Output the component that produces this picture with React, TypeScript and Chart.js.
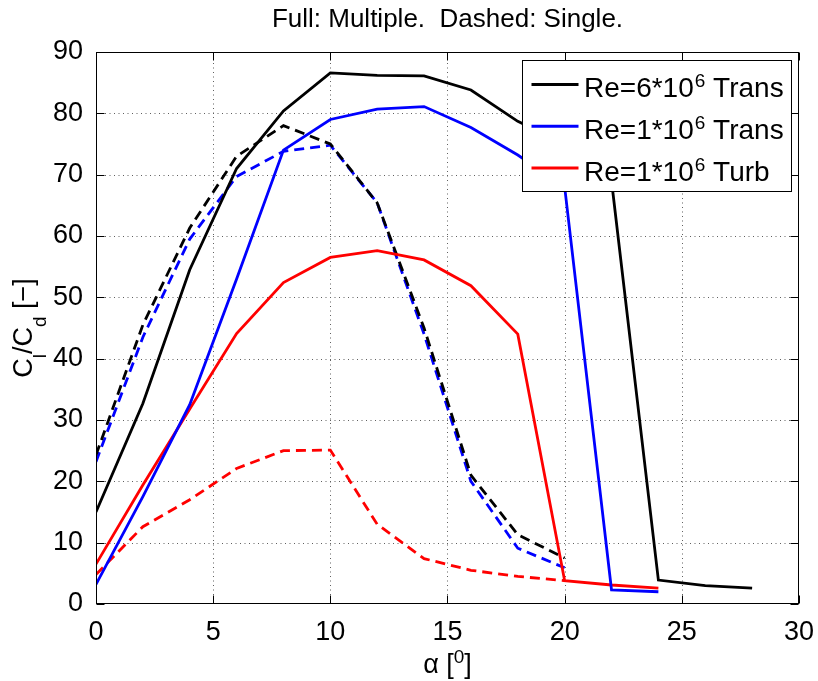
import React, { useEffect, useRef } from "react";
import { Chart, registerables } from "chart.js";

Chart.register(...registerables);

// ---- data (alpha in degrees, Cl/Cd) ----
const alphaBlack = [0, 2, 4, 6, 8, 10, 12, 14, 16, 18, 20, 22, 24, 26, 28];
const re6TransMultiple = [15, 32.7, 54.5, 71, 80.4, 86.6, 86.2, 86.1, 83.8, 78.7, 75, 69, 3.9, 3.0, 2.6];

const alphaBlue = [0, 2, 4, 6, 8, 10, 12, 14, 16, 18, 20, 22, 24];
const re1TransMultiple = [3.2, 17.5, 32.5, 53, 74, 79, 80.7, 81.1, 77.7, 73.2, 68, 2.3, 2.0];

const alphaRed = [0, 2, 4, 6, 8, 10, 12, 14, 16, 18, 20, 22, 24];
const re1TurbMultiple = [6.5, 19.4, 31.8, 44.1, 52.4, 56.5, 57.6, 56.1, 51.9, 44.0, 3.8, 3.1, 2.6];

const alphaSingle = [0, 2, 4, 6, 8, 10, 12, 14, 16, 18, 20];
const re6TransSingle = [24.3, 45.5, 61.3, 73, 78, 75, 65.4, 45, 21, 11.3, 7.5];
const re1TransSingle = [23.2, 43.5, 59.5, 69.7, 73.8, 74.8, 65.4, 44, 20, 9.1, 5.9];
const re1TurbSingle = [4.8, 12.6, 17, 22.1, 25, 25.1, 13, 7.4, 5.5, 4.5, 3.8];

const xTicks = [0, 5, 10, 15, 20, 25, 30];
const yTicks = [0, 10, 20, 30, 40, 50, 60, 70, 80, 90];

const legendEntries = [
  { pre: "Re=6*10", sup: "6", post: " Trans", color: "#000000" },
  { pre: "Re=1*10", sup: "6", post: " Trans", color: "#0000ff" },
  { pre: "Re=1*10", sup: "6", post: " Turb", color: "#ff0000" },
];

const titleText = "Full: Multiple.  Dashed: Single.";
const FONT = '"Liberation Sans", Arial, Helvetica, sans-serif';

const pts = (xs: number[], ys: number[]) => xs.map((x, i) => ({ x, y: ys[i] }));

const decorPlugin = {
  id: "decor",
  beforeDatasetsDraw(chart: any) {
    const { ctx, chartArea: a, scales } = chart;
    const x = scales.x;
    const y = scales.y;
    ctx.save();
    ctx.strokeStyle = "#606060";
    ctx.lineWidth = 1;
    ctx.setLineDash([1, 3.5]);
    for (const v of xTicks) {
      if (v === 0 || v === 30) continue;
      const px = Math.round(x.getPixelForValue(v)) + 0.5;
      ctx.beginPath();
      ctx.moveTo(px, a.bottom);
      ctx.lineTo(px, a.top);
      ctx.stroke();
    }
    for (const v of yTicks) {
      if (v === 0 || v === 90) continue;
      const py = Math.round(y.getPixelForValue(v)) + 0.5;
      ctx.beginPath();
      ctx.moveTo(a.left, py);
      ctx.lineTo(a.right, py);
      ctx.stroke();
    }
    ctx.restore();
  },
  afterDatasetsDraw(chart: any) {
    const { ctx, chartArea: a, scales } = chart;
    const x = scales.x;
    const y = scales.y;
    ctx.save();
    ctx.setLineDash([]);
    ctx.strokeStyle = "#000";
    ctx.lineWidth = 1;
    const L = Math.round(a.left) + 0.5;
    const R = Math.round(a.right) - 0.5;
    const T = Math.round(a.top) + 0.5;
    const B = Math.round(a.bottom) - 0.5;
    ctx.strokeRect(L, T, R - L, B - T);
    const tl = 8;
    for (const v of xTicks) {
      const px = Math.round(x.getPixelForValue(v)) + 0.5;
      ctx.beginPath();
      ctx.moveTo(px, B);
      ctx.lineTo(px, B - tl);
      ctx.moveTo(px, T);
      ctx.lineTo(px, T + tl);
      ctx.stroke();
    }
    for (const v of yTicks) {
      const py = Math.round(y.getPixelForValue(v)) + 0.5;
      ctx.beginPath();
      ctx.moveTo(L, py);
      ctx.lineTo(L + tl, py);
      ctx.moveTo(R, py);
      ctx.lineTo(R - tl, py);
      ctx.stroke();
    }

    // legend
    const lx = 522.5, ly = 60.5, lw = 269, lh = 131;
    ctx.fillStyle = "#fff";
    ctx.fillRect(lx, ly, lw, lh);
    ctx.strokeRect(lx, ly, lw, lh);
    legendEntries.forEach((e, i) => {
      const lineY = 84.5 + i * 41.7;
      const base = 97.3 + i * 41.7;
      ctx.strokeStyle = e.color;
      ctx.lineWidth = 3;
      ctx.beginPath();
      ctx.moveTo(531.5, lineY);
      ctx.lineTo(578.5, lineY);
      ctx.stroke();
      ctx.fillStyle = "#000";
      ctx.textBaseline = "alphabetic";
      ctx.textAlign = "left";
      let cx = 584;
      ctx.font = `28px ${FONT}`;
      ctx.fillText(e.pre, cx, base);
      cx += ctx.measureText(e.pre).width + 1;
      ctx.font = `19px ${FONT}`;
      ctx.fillText(e.sup, cx, base - 10);
      cx += ctx.measureText(e.sup).width;
      ctx.font = `28px ${FONT}`;
      ctx.fillText(e.post, cx, base);
    });
    ctx.restore();
  },
  afterDraw(chart: any) {
    const { ctx, chartArea: a } = chart;
    ctx.save();
    ctx.fillStyle = "#000";
    ctx.textBaseline = "alphabetic";
    // title
    ctx.font = `26px ${FONT}`;
    ctx.textAlign = "center";
    ctx.fillText(titleText, (a.left + a.right) / 2, 27);

    // x-axis title: alpha [^0]
    ctx.textAlign = "left";
    const parts = [
      { t: "\u03b1 [", f: 27, dy: 0 },
      { t: "0", f: 19, dy: -10 },
      { t: "]", f: 27, dy: 0 },
    ];
    let w = 0;
    for (const p of parts) {
      ctx.font = `${p.f}px ${FONT}`;
      w += ctx.measureText(p.t).width;
    }
    let cx = (a.left + a.right) / 2 - w / 2;
    for (const p of parts) {
      ctx.font = `${p.f}px ${FONT}`;
      ctx.fillText(p.t, cx, 673 + p.dy);
      cx += ctx.measureText(p.t).width;
    }

    // y-axis title: C_l/C_d [−]
    const yparts = [
      { t: "C", f: 27, dy: 0 },
      { t: "l", f: 19, dy: 14 },
      { t: "/C", f: 27, dy: 0 },
      { t: "d", f: 19, dy: 14 },
      { t: " [\u2212]", f: 27, dy: 0 },
    ];
    ctx.translate(32, (a.top + a.bottom) / 2);
    ctx.rotate(-Math.PI / 2);
    w = 0;
    for (const p of yparts) {
      ctx.font = `${p.f}px ${FONT}`;
      w += ctx.measureText(p.t).width;
    }
    cx = -w / 2;
    for (const p of yparts) {
      ctx.font = `${p.f}px ${FONT}`;
      ctx.fillText(p.t, cx, p.dy);
      cx += ctx.measureText(p.t).width;
    }
    ctx.restore();
  },
};

export default function App() {
  const ref = useRef<HTMLCanvasElement | null>(null);
  useEffect(() => {
    if (!ref.current) return;
    const solid = (label: string, data: any, color: string) => ({
      label,
      data,
      borderColor: color,
      backgroundColor: color,
      borderWidth: 2.8,
      pointRadius: 0,
      tension: 0,
      fill: false,
    });
    const dashed = (label: string, data: any, color: string) => ({
      ...solid(label, data, color),
      borderDash: [10, 6],
    });
    const chart = new Chart(ref.current, {
      type: "line",
      data: {
        datasets: [
          solid("Re=6*10^6 Trans", pts(alphaBlack, re6TransMultiple), "#000000"),
          solid("Re=1*10^6 Trans", pts(alphaBlue, re1TransMultiple), "#0000ff"),
          solid("Re=1*10^6 Turb", pts(alphaRed, re1TurbMultiple), "#ff0000"),
          dashed("Re=6*10^6 Trans single", pts(alphaSingle, re6TransSingle), "#000000"),
          dashed("Re=1*10^6 Trans single", pts(alphaSingle, re1TransSingle), "#0000ff"),
          dashed("Re=1*10^6 Turb single", pts(alphaSingle, re1TurbSingle), "#ff0000"),
        ],
      },
      options: {
        responsive: false,
        animation: false,
        devicePixelRatio: 1,
        layout: { padding: { left: 0, right: 18, top: 52, bottom: 0 } },
        plugins: {
          legend: { display: false },
          title: { display: false },
          tooltip: { enabled: false },
        },
        scales: {
          x: {
            type: "linear",
            min: 0,
            max: 30,
            grid: { display: false },
            border: { display: false },
            ticks: {
              stepSize: 5,
              color: "#000",
              padding: 4,
              maxRotation: 0,
              font: { family: FONT, size: 27 },
            },
            afterFit: (s: any) => {
              s.height = 77;
            },
          },
          y: {
            type: "linear",
            min: 0,
            max: 90,
            grid: { display: false },
            border: { display: false },
            ticks: {
              stepSize: 10,
              color: "#000",
              padding: 5,
              font: { family: FONT, size: 27 },
            },
            afterFit: (s: any) => {
              s.width = 96;
            },
          },
        },
      },
      plugins: [decorPlugin],
    } as any);
    return () => chart.destroy();
  }, []);
  return (
    <div style={{ position: "fixed", left: 0, top: 0, width: 818, height: 681, background: "#fff" }}>
      <canvas ref={ref} width={818} height={681} style={{ display: "block" }} />
    </div>
  );
}
